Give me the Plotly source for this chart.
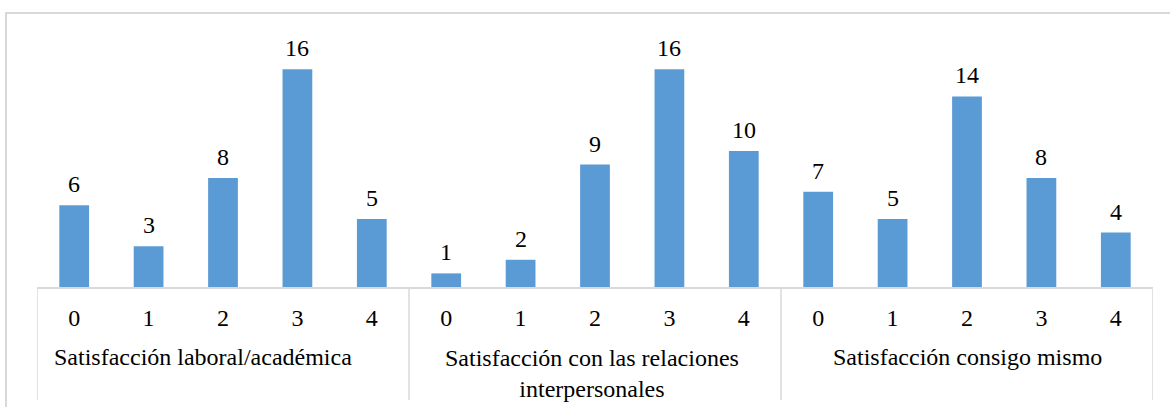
import plotly.graph_objects as go

# Satisfaction scores (0-4) and how many respondents gave each, per dimension
groups = [
    "Satisfacción laboral/académica",
    "Satisfacción con las relaciones<br>interpersonales",
    "Satisfacción consigo mismo",
]
levels = ["0", "1", "2", "3", "4"]
counts_laboral = [6, 3, 8, 16, 5]
counts_relaciones = [1, 2, 9, 16, 10]
counts_consigo = [7, 5, 14, 8, 4]
series = [counts_laboral, counts_relaciones, counts_consigo]

BLUE = "#5B9BD5"
GRID = "#D9D9D9"
FONT = "'Times New Roman', Times, 'Liberation Serif', 'DejaVu Serif', serif"

# flatten groups onto one numeric category axis
xs, ys, ticktext = [], [], []
for g, vals in enumerate(series):
    for j, v in enumerate(vals):
        xs.append(g * len(levels) + j)
        ys.append(v)
        ticktext.append(levels[j])

fig = go.Figure(
    go.Bar(x=xs, y=ys, marker=dict(color=BLUE, line=dict(width=0)), width=0.4,
           hoverinfo="skip")
)

# value labels above each bar
for x, y in zip(xs, ys):
    fig.add_annotation(x=x, y=y, xref="x", yref="y", text=str(y), showarrow=False,
                       yanchor="bottom", yshift=6,
                       font=dict(family=FONT, size=24, color="#000000"))

n = len(xs)
# group dividers below the axis
for g in range(len(groups) + 1):
    fig.add_shape(type="line", xref="x", yref="paper",
                  x0=g * len(levels) - 0.5, x1=g * len(levels) - 0.5,
                  y0=0, y1=-0.461, line=dict(color=GRID, width=1.5))

# group titles
group_shift = [-20, -3, 0]
for g, name in enumerate(groups):
    fig.add_annotation(x=g * len(levels) + 2, y=(287 - 357) / 245, xref="x", yref="paper",
                       text=name, showarrow=False, yanchor="top" if "<br>" in name else "middle",
                       yshift=14 if "<br>" in name else 0, xshift=group_shift[g],
                       font=dict(family=FONT, size=24, color="#000000"))

# outer chart border
fig.add_shape(type="rect", xref="paper", yref="paper",
              x0=(6 - 37) / 1116, x1=1.2, y0=-0.6, y1=(287 - 13) / 245,
              line=dict(color=GRID, width=2), fillcolor="rgba(0,0,0,0)", layer="below")

fig.update_layout(
    width=1170, height=407,
    margin=dict(l=37, r=17, t=42, b=120),
    plot_bgcolor="white", paper_bgcolor="white",
    showlegend=False,
    bargap=0.6,
    font=dict(family=FONT, size=24, color="#000000"),
    xaxis=dict(range=[-0.5, n - 0.5], tickmode="array", tickvals=xs, ticktext=ticktext,
               showline=True, linecolor=GRID, linewidth=1.5, showgrid=False, zeroline=False,
               ticks="", ticklabelstandoff=8,
               tickfont=dict(family=FONT, size=24, color="#000000")),
    yaxis=dict(range=[0, 18], visible=False, showgrid=False, zeroline=False),
)

fig.write_html("out.html")
